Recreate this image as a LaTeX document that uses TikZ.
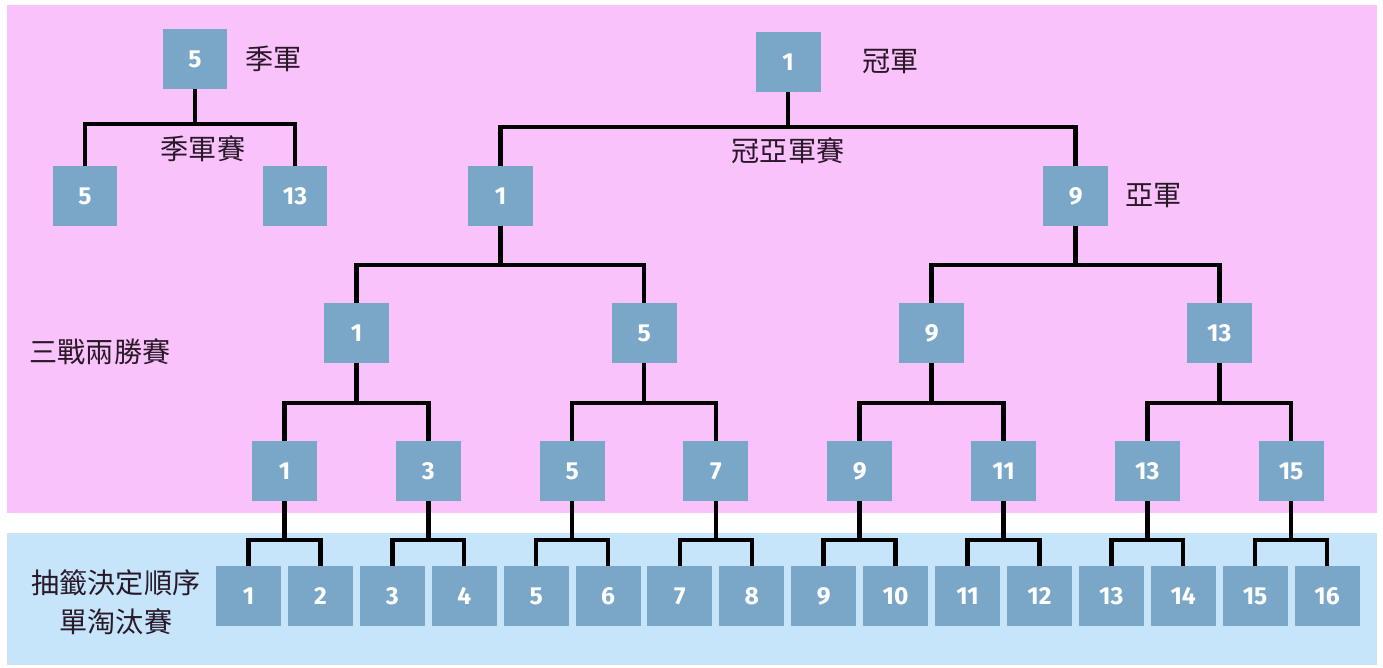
\documentclass[tikz,border=0pt]{standalone}
\usepackage{fontspec}
\setmainfont{Fira Sans}
\newfontfamily\cjk{Noto Sans CJK TC}
\usepackage{tikz}
\usetikzlibrary{
    calc,
    positioning
}
\definecolor{pinkbg}{RGB}{250,194,250}
\definecolor{bluebg}{RGB}{199,229,250}
\definecolor{teambox}{RGB}{122,167,200}
\definecolor{ink}{RGB}{40,24,40}
\tikzset{
    team/.style={fill=teambox, minimum width=1.3cm, minimum height=1.2cm, inner sep=0pt,
        text=white, font=\bfseries\fontsize{14}{14}\selectfont},
    link/.style={line width=0.09cm, black},
    note/.style={text=ink, font=\cjk\fontsize{16}{22}\selectfont, align=center}
}
\newcommand{\bracket}[4]{% parent, left child, right child, height of the bar
    \draw[link] (#2.north) |- (#1.south |- 0,#4) -| (#3.north);
    \draw[link] (#1.south) -- (#1.south |- 0,#4);
}

\begin{document}
\begin{tikzpicture}[x=0.02cm, y=-0.02cm]
    \useasboundingbox (0,0) rectangle (1383,668);
    \fill[pinkbg] (7,5) rectangle (1377,513);
    \fill[bluebg] (7,533) rectangle (1377,665);

    % rounds, from the draw up to the final
    \foreach \v [count=\k] in {1,...,16}
        \node[team] (r0-\k) at ({248.5+71.9*(\k-1)},596) {\v};
    \foreach \v [count=\k] in {1,3,5,7,9,11,13,15}
        \node[team] (r1-\k) at ({284.5+143.8*(\k-1)},471) {\v};
    \foreach \v [count=\k] in {1,5,9,13}
        \node[team] (r2-\k) at ({356.5+287.6*(\k-1)},333) {\v};
    \foreach \v [count=\k] in {1,9}
        \node[team] (r3-\k) at ({500.5+575.2*(\k-1)},196) {\v};
    \node[team] (r4) at (788,62) {1};

    \foreach \k [evaluate=\k as \a using int(2*\k-1), evaluate=\k as \b using int(2*\k)] in {1,...,8}
        {\bracket{r1-\k}{r0-\a}{r0-\b}{540}}
    \foreach \k [evaluate=\k as \a using int(2*\k-1), evaluate=\k as \b using int(2*\k)] in {1,...,4}
        {\bracket{r2-\k}{r1-\a}{r1-\b}{403}}
    \bracket{r3-1}{r2-1}{r2-2}{265}
    \bracket{r3-2}{r2-3}{r2-4}{265}
    \bracket{r4}{r3-1}{r3-2}{127}

    % third place
    \node[team] (th) at (195,59) {5};
    \node[team] (thl) at (85,196) {5};
    \node[team] (thr) at (295,196) {13};
    \bracket{th}{thl}{thr}{124}

    \node[note, right=0.22cm of th] (thname) {季軍};
    \node[note] (thmatch) at (203,149) {季軍賽};
    \node[note, right=0.71cm of r4] (champ) {冠軍};
    \node[note] (final) at (788,151) {冠亞軍賽};
    \node[note, right=0.21cm of r3-2] (second) {亞軍};
    \node[note] (bo3) at (100,352) {三戰兩勝賽};
    \node[note] (draw) at (116,602) {抽籤決定順序\\單淘汰賽};
\end{tikzpicture}
\end{document}
